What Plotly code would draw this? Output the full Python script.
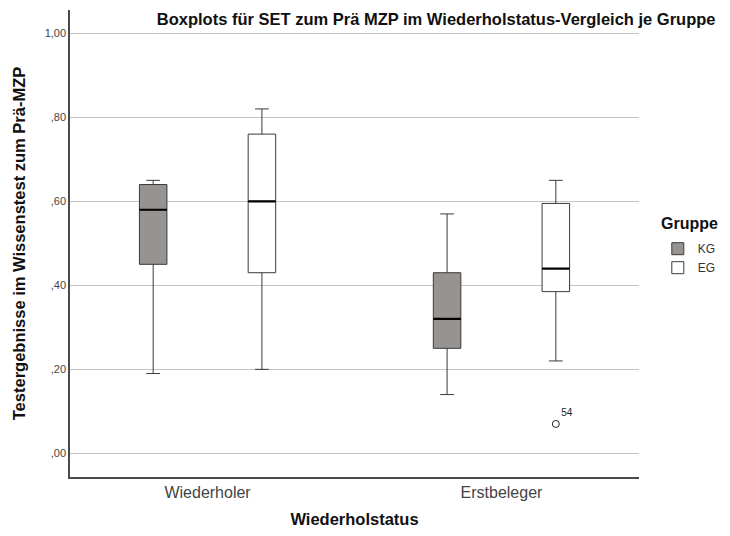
import plotly.graph_objects as go

status = ["Wiederholer", "Erstbeleger"]
groups = ["KG", "EG"]

kg_lower = [0.19, 0.14]
kg_q1 = [0.45, 0.25]
kg_median = [0.58, 0.32]
kg_q3 = [0.64, 0.43]
kg_upper = [0.65, 0.57]

eg_lower = [0.20, 0.22]
eg_q1 = [0.43, 0.385]
eg_median = [0.60, 0.44]
eg_q3 = [0.76, 0.595]
eg_upper = [0.82, 0.65]

outlier_status = ["Erstbeleger"]
outlier_value = [0.07]
outlier_label = ["54"]

y_ticks = [0.0, 0.2, 0.4, 0.6, 0.8, 1.0]
y_ticktext = [",00", ",20", ",40", ",60", ",80", "1,00"]

fills = {"KG": "#979391", "EG": "#ffffff"}
line_col = "#3a3a3a"
box_gap = 0.26
x_range = [-0.468, 1.468]

fig = go.Figure()

stats = {
    "KG": (kg_lower, kg_q1, kg_median, kg_q3, kg_upper),
    "EG": (eg_lower, eg_q1, eg_median, eg_q3, eg_upper),
}

for g in groups:
    lo, q1, med, q3, up = stats[g]
    fig.add_trace(go.Box(
        x=status, q1=q1, median=med, q3=q3, lowerfence=lo, upperfence=up,
        name=g, offsetgroup=g, fillcolor=fills[g],
        line=dict(color=line_col, width=1), whiskerwidth=0.5,
        boxpoints=False, hoverinfo="skip",
    ))
    # dicker schwarzer Median wie in SPSS
    fig.add_trace(go.Box(
        x=status, q1=med, median=med, q3=med, lowerfence=med, upperfence=med,
        name=g, offsetgroup=g, fillcolor="rgba(0,0,0,0)",
        line=dict(color="black", width=2.2), whiskerwidth=0,
        boxpoints=False, showlegend=False, hoverinfo="skip",
    ))

# Ausreißer: auf einer linearen Hilfsachse an der Position der EG-Box
eg_offset = (1 - box_gap) / 4
fig.add_trace(go.Scatter(
    x=[status.index(s) + eg_offset for s in outlier_status], y=outlier_value,
    xaxis="x2", mode="markers+text", text=outlier_label,
    textposition="top right", textfont=dict(size=10, color="#222"),
    marker=dict(symbol="circle-open", size=7, color="#222", line=dict(width=1)),
    showlegend=False, hoverinfo="skip",
))

# Seite hat 8px Rand, daher 722x520 (kein Scrollbalken)
fig.update_layout(
    width=722, height=520,
    boxmode="group", boxgap=box_gap, boxgroupgap=0.747,
    plot_bgcolor="white", paper_bgcolor="white",
    font=dict(family="Liberation Sans, Arial, sans-serif", color="#222"),
    margin=dict(l=62, r=91, t=2, b=51),
    title=dict(text="<b>Boxplots für SET zum Prä MZP im Wiederholstatus-Vergleich je Gruppe</b>",
               x=0.206, xanchor="left", y=0.979, yanchor="middle",
               font=dict(size=16.5, color="#111")),
    legend=dict(xref="container", yref="container",
                x=0.900, xanchor="left", y=0.565, yanchor="top",
                font=dict(size=12, color="#333"), tracegroupgap=0,
                itemwidth=30, bgcolor="rgba(0,0,0,0)"),
    annotations=[dict(text="<b>Gruppe</b>", xref="paper", yref="paper",
                      x=1.035, y=0.542, xanchor="left", yanchor="middle",
                      showarrow=False, font=dict(size=16, color="#111"))],
    xaxis=dict(
        type="category", range=x_range, automargin=False,
        title=dict(text="<b>Wiederholstatus</b>", font=dict(size=16.5, color="#111"), standoff=16),
        tickfont=dict(size=16, color="#444"),
        showline=True, linecolor="#4a4a4a", linewidth=1.5,
        ticks="", showgrid=False, zeroline=False,
    ),
    xaxis2=dict(overlaying="x", range=x_range, visible=False),
    yaxis=dict(
        range=[-0.0563, 1.0555], automargin=False,
        tickvals=y_ticks, ticktext=y_ticktext,
        tickfont=dict(size=11, color="#444"),
        title=dict(text="<b>Testergebnisse im Wissenstest zum Prä-MZP</b>",
                   font=dict(size=16.5, color="#111"), standoff=15),
        showline=True, linecolor="#4a4a4a", linewidth=1.5,
        showgrid=True, gridcolor="#c4c4c4", gridwidth=1,
        zeroline=False, ticks="",
    ),
)

fig.write_html("out.html")
